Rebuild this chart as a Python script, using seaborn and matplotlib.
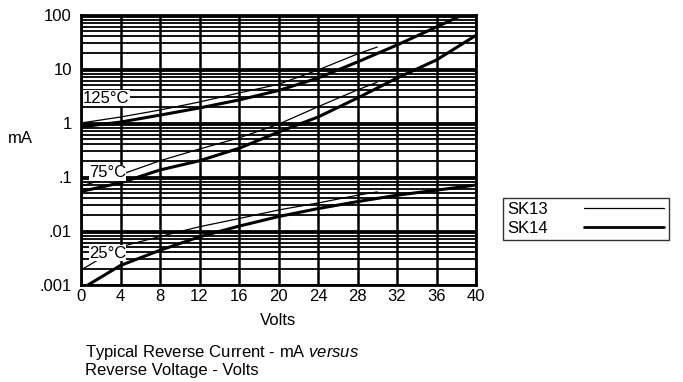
import numpy as np
import pandas as pd
import matplotlib
matplotlib.use("Agg")
import matplotlib.pyplot as plt
from matplotlib.lines import Line2D
import seaborn as sns

sns.set_style("white")
plt.rcParams['font.family'] = ['Liberation Sans', 'DejaVu Sans']
plt.rcParams['mathtext.fontset'] = 'custom'
plt.rcParams['mathtext.it'] = 'Liberation Sans:italic'
plt.rcParams['mathtext.rm'] = 'Liberation Sans'
plt.rcParams['text.color'] = 'black'
plt.rcParams['axes.labelcolor'] = 'black'

# Reverse current (mA)
# SK13 (thin, 30 V part)
sk13_volts = [0, 4, 8, 12, 16, 20, 24, 28, 30]
sk13_125c = [1.0, 1.29, 1.74, 2.45, 3.6, 5.2, 9.6, 19.0, 25.5]
sk13_75c = [0.068, 0.11, 0.2, 0.33, 0.53, 0.95, 2.0, 4.1, 5.7]
sk13_25c = [0.0019, 0.0051, 0.0079, 0.012, 0.017, 0.0245, 0.033, 0.046, 0.053]

# SK14 (thick, 40 V part)
sk14_volts = [0, 4, 8, 12, 16, 20, 24, 28, 32, 36, 38.6]
sk14_125c = [0.85, 1.04, 1.4, 1.9, 2.67, 4.0, 6.8, 13.5, 27.8, 60, 100]
sk14_75c_volts = [0, 4, 8, 12, 16, 20, 24, 28, 32, 36, 40]
sk14_75c = [0.054, 0.078, 0.135, 0.2, 0.34, 0.68, 1.29, 2.9, 6.8, 14.7, 42]
sk14_25c_volts = [0.7, 4, 8, 12, 16, 20, 24, 28, 32, 36, 40]
sk14_25c = [0.001, 0.0023, 0.0044, 0.0078, 0.0123, 0.0185, 0.026, 0.035, 0.046, 0.057, 0.071]

temp_labels = ['125°C', '75°C', '25°C']
temp_label_pos = [(0.2, 2.9), (0.8, 0.12), (0.8, 0.0039)]
y_ticks = [100, 10, 1, 0.1, 0.01, 0.001]
y_tick_labels = ['100', '10', '1', '.1', '.01', '.001']
x_ticks = list(range(0, 41, 4))

FS = 12


def curve(device, temp, volts, ma):
    return pd.DataFrame({'volts': volts, 'mA': ma, 'device': device,
                         'curve': device + ' ' + temp})


df = pd.concat([
    curve('SK13', '125', sk13_volts, sk13_125c),
    curve('SK13', '75', sk13_volts, sk13_75c),
    curve('SK13', '25', sk13_volts, sk13_25c),
    curve('SK14', '125', sk14_volts, sk14_125c),
    curve('SK14', '75', sk14_75c_volts, sk14_75c),
    curve('SK14', '25', sk14_25c_volts, sk14_25c),
], ignore_index=True)

fig = plt.figure(figsize=(6.83, 3.82), dpi=100)
ax = fig.add_axes([81 / 683, 1 - 285 / 382, 395 / 683, 270 / 382])

ax.set_yscale('log')
ax.set_xlim(0, 40)
ax.set_ylim(0.001, 100)

# dense log grid
minor = [m * 10.0 ** e for e in range(-3, 2) for m in range(2, 10)]
ax.set_yticks(y_ticks)
ax.set_yticklabels(y_tick_labels)
ax.set_yticks(minor, minor=True)
ax.yaxis.set_minor_formatter(plt.NullFormatter())
ax.set_xticks(x_ticks)
ax.grid(axis='x', which='major', color='black', lw=1.8)
ax.grid(axis='y', which='major', color='black', lw=2.0)
ax.grid(axis='y', which='minor', color='black', lw=1.3)
ax.set_axisbelow(True)

sns.lineplot(data=df, x='volts', y='mA', units='curve', estimator=None,
             size='device', sizes={'SK13': 0.9, 'SK14': 2.2},
             color='black', legend=False, ax=ax)

for lbl, (xv, yv) in zip(temp_labels, temp_label_pos):
    ax.text(xv, yv, lbl, fontsize=FS, va='center', ha='left',
            bbox=dict(facecolor='white', edgecolor='none', pad=0.3))

for s in ax.spines.values():
    s.set_color('black')
    s.set_linewidth(2)

ax.tick_params(axis='both', length=0, labelsize=FS, colors='black')
ax.tick_params(axis='y', pad=6.5)
ax.tick_params(axis='x', pad=3)

ax.set_xlabel('Volts', fontsize=FS)
ax.xaxis.set_label_coords(0.5, -0.105)
ax.set_ylabel('mA', fontsize=FS, rotation=0, ha='center', va='center')
ax.yaxis.set_label_coords(-0.154, 0.544)

fig.text(85 / 683, 1 - 352 / 382, r'Typical Reverse Current - mA $\it{versus}$',
         fontsize=FS, va='center', ha='left')
fig.text(85 / 683, 1 - 370 / 382, 'Reverse Voltage - Volts',
         fontsize=FS, va='center', ha='left')

handles = [Line2D([], [], color='black', lw=0.9),
           Line2D([], [], color='black', lw=2.0)]
leg = fig.legend(handles, ['SK13', 'SK14'], loc='upper left',
                 bbox_to_anchor=(503 / 683, 1 - 198 / 382), markerfirst=False,
                 handlelength=4.8, handletextpad=2.2, labelspacing=0.2,
                 borderpad=0.25, fontsize=FS, fancybox=False, frameon=True,
                 borderaxespad=0)
leg.get_frame().set_edgecolor('black')
leg.get_frame().set_linewidth(1.0)

plt.savefig('out.png', dpi=100)
